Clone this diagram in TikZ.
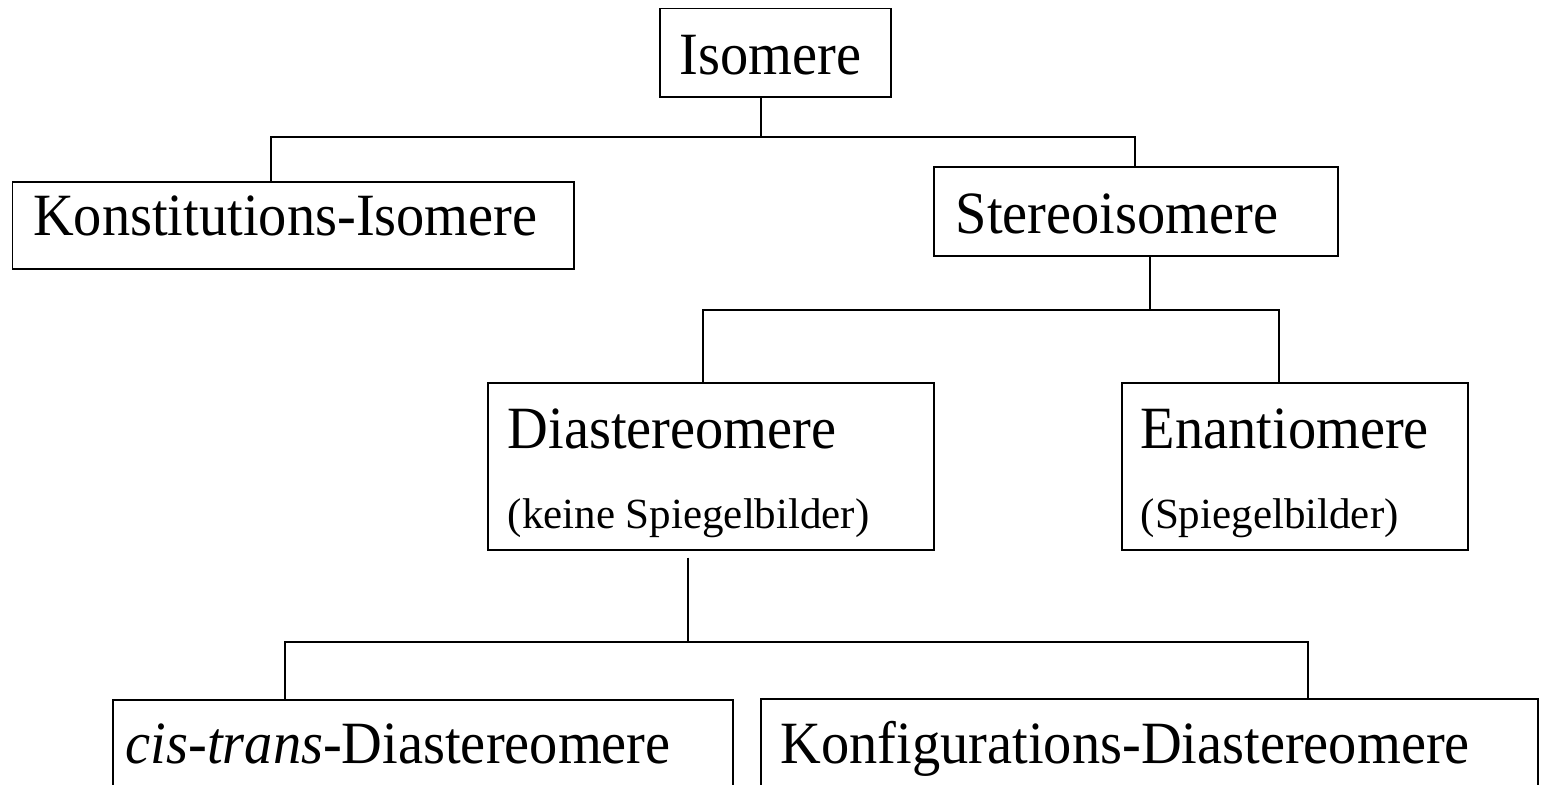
\documentclass[tikz,border=0pt]{standalone}
\usepackage{fontspec}
\setmainfont{Liberation Serif}
\newfontfamily\bigfont{Liberation Serif}[FakeStretch=0.94]

\begin{document}
\begin{tikzpicture}[x=1pt,y=-1pt,line width=1.5pt,
	isobox/.style={draw, anchor=north west, inner ysep=0pt, align=left, font=\bigfont\fontsize{60}{64}\selectfont},
	subtext/.style={anchor=base west, inner sep=0pt, font=\fontsize{43}{46}\selectfont}]
	\useasboundingbox (0,0) rectangle (1541,784);
	% boxes
	\node[isobox, inner xsep=20pt, text width=191pt, text height=66pt, text depth=22pt] (iso) at (659,8) {Isomere};
	\node[isobox, inner xsep=21pt, text width=519.5pt, text height=54pt, text depth=33pt] (konst) at (11.5,181) {Konstitutions-Isomere};
	\node[isobox, inner xsep=22pt, text width=360pt, text height=67pt, text depth=22pt] (stereo) at (933,166) {Stereoisomere};
	\node[isobox, inner xsep=20pt, text width=406pt, text height=66pt, text depth=101pt] (diast) at (487,382) {Diastereomere};
	\node[isobox, inner xsep=19pt, text width=308pt, text height=66pt, text depth=101pt] (enant) at (1121,382) {Enantiomere};
	\node[isobox, inner xsep=13pt, text width=594pt, text height=64pt, text depth=60pt] (cistrans) at (112,699) {\textit{cis-trans}-Diastereomere};
	\node[isobox, inner xsep=20pt, text width=737pt, text height=65pt, text depth=60pt] (konfig) at (760,698) {Konfigurations-Diastereomere};
	\node[subtext] (diastsub) at (507,528) {(keine Spiegelbilder)};
	\node[subtext] (enantsub) at (1140,528) {(Spiegelbilder)};
	% branch points
	\coordinate (b1) at (761,137);
	\coordinate (b1l) at (271,137);
	\coordinate (b1r) at (1135,137);
	\coordinate (b2) at (1150,310);
	\coordinate (b2l) at (703,310);
	\coordinate (b2r) at (1279,310);
	\coordinate (b3) at (688,642);
	\coordinate (b3l) at (285,642);
	\coordinate (b3r) at (1308,642);
	% connectors
	\draw (iso.south -| b1) -- (b1);
	\draw (konst.north -| b1l) -- (b1l) -- (b1r) -- (stereo.north -| b1r);
	\draw (stereo.south -| b2) -- (b2);
	\draw (diast.north -| b2l) -- (b2l) -- (b2r) -- (enant.north -| b2r);
	\draw[shorten <=7pt] (diast.south -| b3) -- (b3);
	\draw (cistrans.north -| b3l) -- (b3l) -- (b3r) -- (konfig.north -| b3r);
\end{tikzpicture}
\end{document}
